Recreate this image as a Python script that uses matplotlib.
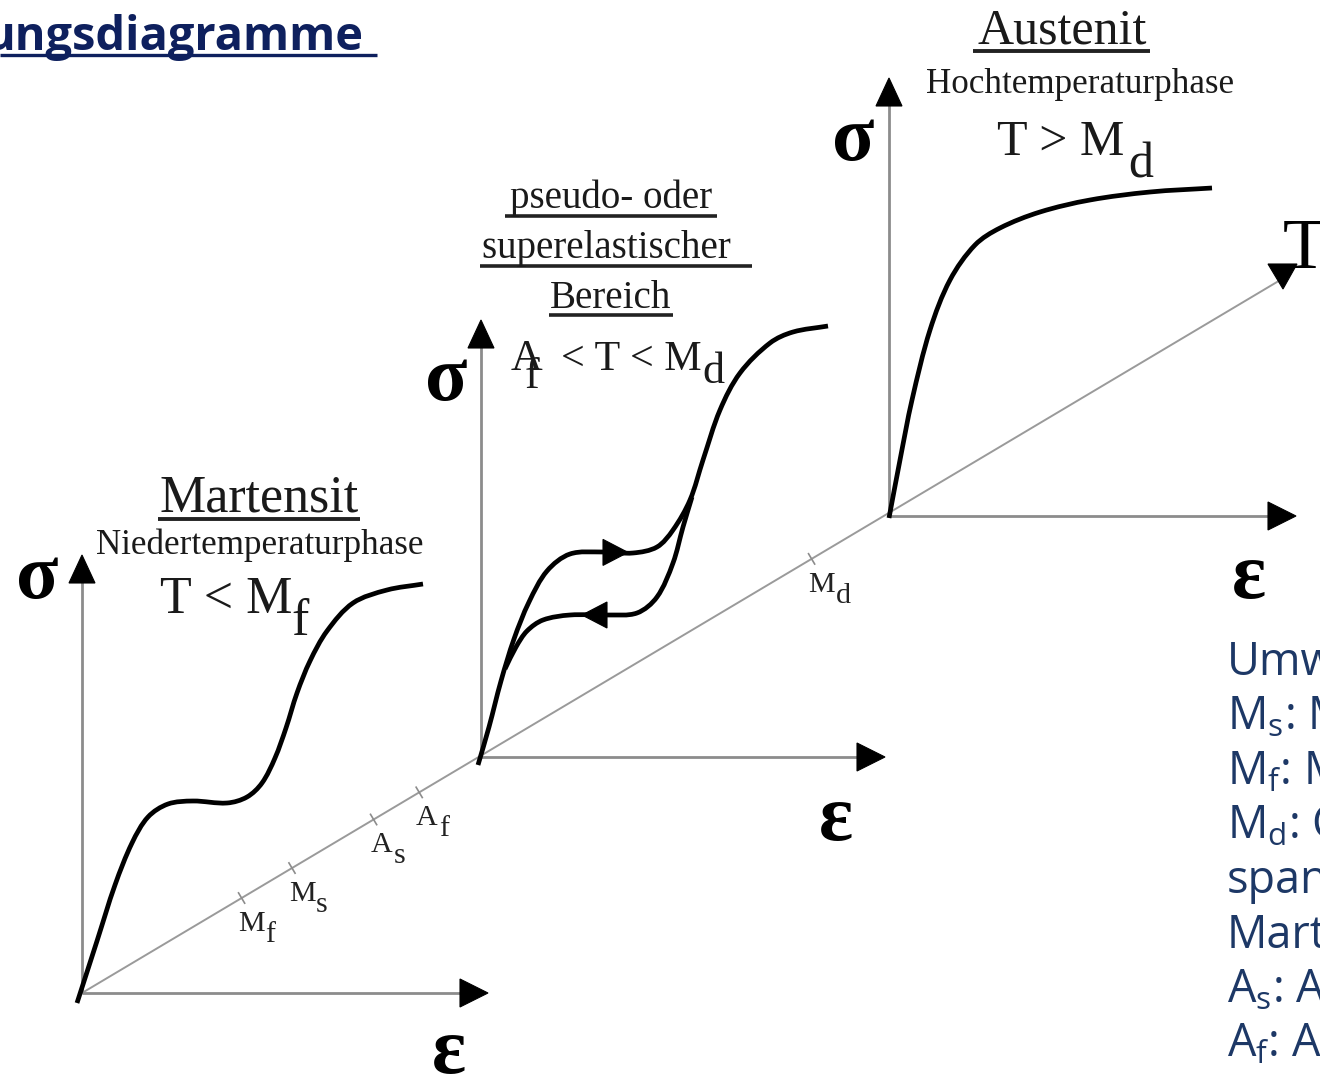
import numpy as np
import matplotlib
matplotlib.use("Agg")
import matplotlib.pyplot as plt
from matplotlib.path import Path
from matplotlib.patches import PathPatch, Polygon

# ---------------------------------------------------------------------------
# Stress-strain sketches (strain eps to the right, stress sigma upwards),
# given in pixels relative to each diagram's origin.
# ---------------------------------------------------------------------------
martensit_eps = [-5, 15, 33, 50, 66, 86, 111, 145, 165, 180, 193, 204, 215, 228, 245, 271, 305, 341]
martensit_sig = [-10, 52, 108, 150, 176, 189, 192, 190, 196, 210, 235, 265, 300, 332, 362, 390, 403, 409]

super_load_eps = [-3, 8, 20, 33, 48, 66, 89, 122, 152, 176, 192, 209, 222, 239, 259, 289, 312, 347]
super_load_sig = [-8, 30, 76, 118, 155, 186, 203, 205, 204, 210, 227, 257, 297, 347, 384, 414, 425, 431]

super_unload_eps = [211, 202, 192, 176, 156, 126, 89, 62, 46, 35, 24]
super_unload_sig = [260, 230, 194, 160, 144, 142, 142, 137, 126, 110, 88]

austenit_eps = [0, 11, 23, 41, 61, 86, 111, 151, 201, 261, 323]
austenit_sig = [-2, 56, 116, 186, 236, 271, 288, 304, 316, 324, 328]

# Transformation temperatures marked on the temperature axis (fraction of its x-span)
temp_labels = ["M", "M", "A", "A", "M"]
temp_subs = ["f", "s", "s", "f", "d"]
temp_pos = [0.133, 0.175, 0.243, 0.281, 0.608]

# Headings of the three diagrams
phase_titles = ["Martensit", "Austenit"]
phase_subtitles = ["Niedertemperaturphase", "Hochtemperaturphase"]
super_title = ["pseudo- oder", "superelastischer ", "Bereich"]

# Legend text at the right margin
legend_lines = ["Umw", "M$_\\mathregular{s}$: M", "M$_\\mathregular{f}$: M", "M$_\\mathregular{d}$: C",
                "span", "Mart", "A$_\\mathregular{s}$: A", "A$_\\mathregular{f}$: Au"]

# ---------------------------------------------------------------------------
W, H = 1320, 1078
fig = plt.figure(figsize=(W / 100, H / 100), dpi=100)
ax = fig.add_axes([0, 0, 1, 1])
ax.set_xlim(0, W)
ax.set_ylim(H, 0)
ax.axis("off")
plt.rcParams["mathtext.default"] = "regular"

SERIF = ["Liberation Serif", "DejaVu Serif"]
SANS = ["Open Sans", "DejaVu Sans"]
AXIS_GREY = "#8c8c8c"
PX = 0.72  # px -> pt at 100 dpi

origins = {"mart": (82, 993), "super": (481, 757), "aust": (889, 516)}
sigma_top = {"mart": 555, "super": 320, "aust": 78}
eps_right = {"mart": 488, "super": 885, "aust": 1296}


def smooth_path(xs, ys):
    """Cubic Bezier path through the points, chord-length tangents."""
    p = np.column_stack([xs, ys]).astype(float)
    n = len(p)
    d = np.hypot(*np.diff(p, axis=0).T)
    t = np.concatenate([[0], np.cumsum(d)])
    m = np.zeros_like(p)
    m[0] = (p[1] - p[0]) / d[0]
    m[-1] = (p[-1] - p[-2]) / d[-1]
    for i in range(1, n - 1):
        m[i] = (p[i + 1] - p[i - 1]) / (t[i + 1] - t[i - 1])
    verts = [p[0]]
    codes = [Path.MOVETO]
    for i in range(n - 1):
        h = d[i] / 3
        verts += [p[i] + m[i] * h, p[i + 1] - m[i + 1] * h, p[i + 1]]
        codes += [Path.CURVE4] * 3
    return Path(verts, codes)


def draw_curve(key, eps, sig):
    ox, oy = origins[key]
    xs = ox + np.asarray(eps, float)
    ys = oy - np.asarray(sig, float)
    ax.add_patch(PathPatch(smooth_path(xs, ys), fill=False, lw=3.4,
                           ec="black", capstyle="butt", joinstyle="round", zorder=4))


def tri(points, **kw):
    ax.add_patch(Polygon(points, closed=True, fc="black", ec="black", lw=0.8, zorder=5, **kw))


def axes_pair(key):
    ox, oy = origins[key]
    top = sigma_top[key]
    right = eps_right[key]
    ax.plot([ox, ox], [oy, top + 25], color=AXIS_GREY, lw=2.0, zorder=2, solid_capstyle="butt")
    ax.plot([ox, right - 25], [oy, oy], color=AXIS_GREY, lw=2.0, zorder=2, solid_capstyle="butt")
    tri([(ox - 13, top + 28), (ox + 13, top + 28), (ox, top)])
    tri([(right - 28, oy - 14), (right - 28, oy + 14), (right, oy)])


for k in origins:
    axes_pair(k)

# Temperature axis through the three origins
x0, y0 = origins["mart"]
x1, y1 = 1282, 279
ax.plot([x0, x1], [y0, y1], color="#9a9a9a", lw=1.4, zorder=1)
tri([(1268, 264), (1297, 264), (1283, 289)])
dx, dy = x1 - x0, y1 - y0
nrm = np.array([-dy, dx]) / np.hypot(dx, dy)
for lab, sub, t in zip(temp_labels, temp_subs, temp_pos):
    tx, ty = x0 + t * dx, y0 + t * dy
    ax.plot([tx - 6 * nrm[0], tx + 6 * nrm[0]], [ty - 6 * nrm[1], ty + 6 * nrm[1]],
            color="#8c8c8c", lw=1.2, zorder=2)
    ax.text(tx - 3, ty + 33, lab, fontsize=30 * PX, family=SERIF, color="#222222",
            ha="left", va="baseline")
    sub_dx = 27 if lab == "M" else 23
    ax.text(tx - 3 + sub_dx, ty + 44, sub, fontsize=30 * PX, family=SERIF, color="#222222",
            ha="left", va="baseline")

# Curves
draw_curve("mart", martensit_eps, martensit_sig)
draw_curve("super", super_load_eps, super_load_sig)
draw_curve("super", super_unload_eps, super_unload_sig)
draw_curve("aust", austenit_eps, austenit_sig)

# Direction arrows on the hysteresis loop
ox, oy = origins["super"]
e_up = 134
s_up = np.interp(e_up, super_load_eps, super_load_sig)
tri([(ox + e_up - 12, oy - s_up - 13), (ox + e_up - 12, oy - s_up + 13), (ox + e_up + 13, oy - s_up)])
e_dn = 114
s_dn = np.interp(e_dn, super_unload_eps[::-1], super_unload_sig[::-1])
tri([(ox + e_dn + 12, oy - s_dn - 13), (ox + e_dn + 12, oy - s_dn + 13), (ox + e_dn - 13, oy - s_dn)])

# Axis symbols
for (x, y) in [(16, 598), (425, 400), (832, 160)]:
    ax.text(x, y, "σ", fontsize=78 * PX, family=SERIF, weight="bold", ha="left", va="baseline")
for (x, y) in [(432, 1073), (819, 840), (1232, 598)]:
    ax.text(x, y, "ε", fontsize=80 * PX, family=SERIF, weight="bold", ha="left", va="baseline")
ax.text(1283, 268, "T", fontsize=72 * PX, family=SERIF, ha="left", va="baseline")


def serif(x, y, s, px, **kw):
    ax.text(x, y, s, fontsize=px * PX, family=SERIF, color="#1a1a1a", va="baseline", **kw)


# Headings: Martensit
serif(259, 512, phase_titles[0], 52, ha="center")
ax.plot([158, 360], [519, 519], color="#222222", lw=2.8, solid_capstyle="butt")
serif(260, 554, phase_subtitles[0], 35, ha="center")
serif(160, 613, "T < M", 52, ha="left")
serif(291, 635, "f", 52, ha="left")

# Headings: superelastic range
serif(611, 208, super_title[0], 39, ha="center")
ax.plot([505, 717], [216, 216], color="#222222", lw=2.6, solid_capstyle="butt")
serif(611, 258, super_title[1], 39, ha="center")
ax.plot([480, 752], [266, 266], color="#222222", lw=2.6, solid_capstyle="butt")
serif(611, 308, super_title[2], 39, ha="center")
ax.plot([549, 673], [315, 315], color="#222222", lw=2.6, solid_capstyle="butt")
serif(511, 370, "A", 44, ha="left")
serif(525, 388, "f", 44, ha="left")
serif(561, 370, "< T < M", 42, ha="left")
serif(702, 383, "d", 44, ha="left")

# Headings: Austenit
serif(1062, 43, phase_titles[1], 50, ha="center")
ax.plot([973, 1150], [51, 51], color="#222222", lw=2.8, solid_capstyle="butt")
serif(1080, 93, phase_subtitles[1], 35, ha="center")
serif(997, 155, "T > M", 50, ha="left")
serif(1128, 177, "d", 50, ha="left")

# Page title (continues beyond the left edge)
ax.text(-15, 50, "ungsdiagramme", fontsize=47 * PX, family=SANS, weight="bold",
        color="#0e205e", ha="left", va="baseline")
ax.plot([0, 377], [55, 55], color="#0e205e", lw=2.4, solid_capstyle="butt")

# Legend lines at the right margin
for i, s in enumerate(legend_lines):
    ax.text(1227, 675 + 54.5 * i, s, fontsize=45 * PX, family=SANS, color="#1d3866",
            ha="left", va="baseline")

fig.savefig("out.png", dpi=100, facecolor="white")
